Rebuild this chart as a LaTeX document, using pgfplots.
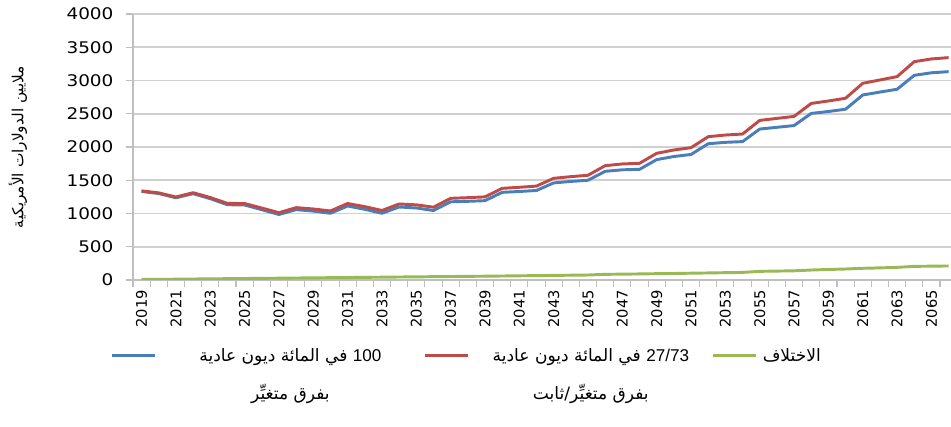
\documentclass[border=0pt]{standalone}
\usepackage{fontspec}
\usepackage{pgfplots}
\usepackage{pgfplotstable}
\pgfplotsset{compat=1.18}
\setmainfont{DejaVu Sans}
\newfontfamily\arabicfont[Script=Arabic]{DejaVu Sans}
\newfontfamily\latfont{Liberation Sans}
\newfontfamily\ytickfont{DejaVu Sans}[FakeStretch=1.15]
\TeXXeTstate=1
\definecolor{serBlue}{HTML}{4A7EBB}
\definecolor{serRed}{HTML}{BE4B48}
\definecolor{serGreen}{HTML}{98B954}
\definecolor{gridgray}{HTML}{D0D0D0}
\definecolor{axgray}{HTML}{BFBFBF}

\pgfplotstableread{
idx year R B G
0 2019 1340 1332 8
1 2020 1310 1300 10
2 2021 1248 1236 12
3 2022 1313 1298 15
4 2023 1240 1223 17
5 2024 1152 1132 20
6 2025 1150 1128 22
7 2026 1082 1057 25
8 2027 1012 985 27
9 2028 1088 1058 30
10 2029 1068 1036 32
11 2030 1038 1003 35
12 2031 1150 1113 37
13 2032 1103 1063 40
14 2033 1045 1003 42
15 2034 1143 1098 45
16 2035 1130 1083 47
17 2036 1095 1045 50
18 2037 1228 1176 52
19 2038 1238 1183 55
20 2039 1250 1193 57
21 2040 1378 1318 60
22 2041 1394 1331 63
23 2042 1412 1346 66
24 2043 1529 1460 69
25 2044 1554 1482 72
26 2045 1575 1500 75
27 2046 1719 1634 85
28 2047 1745 1657 88
29 2048 1755 1664 91
30 2049 1905 1810 95
31 2050 1955 1857 98
32 2051 1990 1888 102
33 2052 2155 2049 106
34 2053 2180 2070 110
35 2054 2195 2081 114
36 2055 2400 2270 130
37 2056 2430 2296 134
38 2057 2460 2322 138
39 2058 2655 2505 150
40 2059 2692 2534 158
41 2060 2733 2568 165
42 2061 2958 2782 176
43 2062 3008 2826 182
44 2063 3058 2868 190
45 2064 3283 3078 205
46 2065 3324 3116 208
47 2066 3344 3133 211
}\datatable

\newcommand{\lgtxt}[3]{\makebox[#1][c]{\begin{tabular}[t]{@{}c@{}}#2\\[12.5pt]#3\end{tabular}}}

\begin{document}
\begin{tikzpicture}
\useasboundingbox (-99.75pt,-110.25pt) rectangle (613.5pt,210pt);
\begin{axis}[
  scale only axis,
  width=613.5pt, height=199.5pt,
  xmin=-0.5, xmax=47.14,
  ymin=0, ymax=4000,
  axis lines*=left,
  axis line style={axgray, line width=1pt},
  ytick={0,500,...,4000},
  ymajorgrids,
  grid style={gridgray, line width=1.2pt},
  tick align=outside,
  tick style={axgray, line width=0.8pt},
  major tick length=5.5pt,
  xtick={-0.5,0.5,...,46.5},
  xticklabels={},
  extra x ticks={0,2,...,46},
  extra x tick labels={2019,2021,2023,2025,2027,2029,2031,2033,2035,2037,2039,2041,2043,2045,2047,2049,2051,2053,2055,2057,2059,2061,2063,2065},
  extra x tick style={major tick length=0pt, grid=none},
  x tick label style={rotate=90, anchor=east, inner sep=0pt, font=\fontsize{11}{13}\selectfont},
  xticklabel shift=7.5pt,
  y tick label style={anchor=east, inner sep=0pt, font=\ytickfont\fontsize{12}{14}\selectfont},
  yticklabel shift=9pt,
  /pgf/number format/assume math mode=true,
  /pgf/number format/1000 sep={},
  ylabel={\arabicfont\fontsize{11.5}{13}\selectfont\beginR ملايين الدولارات الأمريكية\endR},
  ylabel style={at={(axis description cs:-0.1406,0.5)}, anchor=center},
  legend columns=3,
  legend style={at={(axis description cs:-0.0269,-0.2556)}, anchor=north west,
    draw=none, fill=none, inner sep=0pt, outer sep=0pt,
    nodes={inner sep=0pt},
    font=\fontsize{12.8}{14.5}\selectfont,
    /tikz/every even column/.append style={column sep=0pt},
    /tikz/every odd column/.append style={column sep=0pt}},
  legend image code/.code={\draw[#1, line width=2.2pt] (0pt,0pt) -- (32.25pt,0pt);},
  legend cell align=left,
]
\addplot[serBlue, line width=2.2pt, line join=round, no markers] table[x=idx, y=B] {\datatable};
\addlegendentry{\lgtxt{200.25pt}{\arabicfont\beginR\beginL{\latfont 100}\endL{} في المائة ديون عادية\endR}{\arabicfont\beginR بفرق متغيِّر\endR}}
\addplot[serRed, line width=2.2pt, line join=round, no markers] table[x=idx, y=R] {\datatable};
\addlegendentry{\lgtxt{181.5pt}{\arabicfont\beginR\beginL{\latfont 27/73}\endL{} في المائة ديون عادية\endR}{\arabicfont\beginR بفرق متغيِّر/ثابت\endR}}
\addplot[serGreen, line width=2.2pt, line join=round, no markers] table[x=idx, y=G] {\datatable};
\addlegendentry{\makebox[51pt][c]{\arabicfont\beginR الاختلاف\endR}}
\end{axis}
\end{tikzpicture}
\end{document}
